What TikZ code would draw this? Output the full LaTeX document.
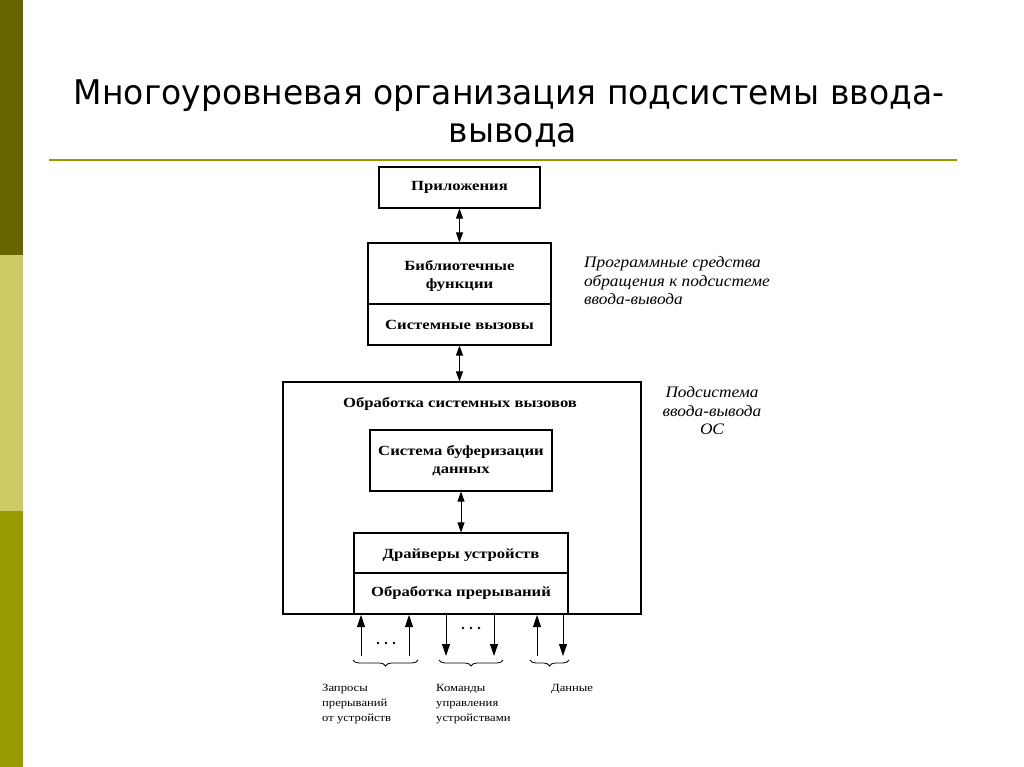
\documentclass[tikz,border=0pt]{standalone}
\usepackage{fontspec}
\setmainfont{Liberation Serif}
\newfontfamily\titlefont{DejaVu Sans}[FakeStretch=0.97]
\newfontfamily\boxfont{Liberation Serif}[FakeStretch=1.19]
\newfontfamily\itfont{Liberation Serif}[FakeStretch=1.08]
\newfontfamily\lblfont{Liberation Serif}[FakeStretch=1.15]
\usetikzlibrary{arrows.meta,decorations.pathreplacing}
\definecolor{bardark}{HTML}{666600}
\definecolor{barlight}{HTML}{CCCC66}
\definecolor{barolive}{HTML}{999900}
\tikzset{
  box/.style={draw=black, line width=1.1pt, inner sep=0pt, fill=white},
  btext/.style={font=\boxfont\fontsize{14}{18}\selectfont\bfseries, align=center, inner sep=0pt},
  itext/.style={font=\itfont\fontsize{16}{18.5}\selectfont\itshape, inner sep=0pt},
  ltext/.style={font=\lblfont\fontsize{11}{15.2}\selectfont, align=left, inner sep=0pt, anchor=north west},
  ttext/.style={font=\titlefont\fontsize{34}{39}\selectfont, inner sep=0pt, anchor=base},
  dbl/.style={line width=0.8pt, {Triangle[width=7pt,length=10pt]}-{Triangle[width=7pt,length=10pt]}},
  sgl/.style={line width=0.8pt, -{Triangle[width=8pt,length=12pt]}},
  brc/.style={line width=0.8pt, decorate, decoration={brace, mirror, amplitude=6pt}},
  dotmark/.style={circle, fill=black, inner sep=0pt, minimum size=2.6pt},
}
\begin{document}
\begin{tikzpicture}[x=1pt,y=-1pt]
\useasboundingbox (0,0) rectangle (1024,767);
% side bar
\fill[bardark] (0,0) rectangle (23,255);
\fill[barlight] (0,255) rectangle (23,511);
\fill[barolive] (0,511) rectangle (23,767);
% title
\node[ttext] (title1) at (509,105) {Многоуровневая организация подсистемы ввода-};
\node[ttext] (title2) at (513,143) {вывода};
\draw[barolive, line width=2pt] (49,160) -- (957,160);
% boxes
\node[box, minimum width=161pt, minimum height=41pt] (app) at (459.5,187.5) {};
\node[btext] (appt) at (app.center) {Приложения};
\node[box, minimum width=183pt, minimum height=102pt] (lib) at (459.5,294) {};
\coordinate (libdl) at (368,304);
\coordinate (libdr) at (551,304);
\draw[line width=1.1pt] (libdl) -- (libdr);
\node[btext] (libt) at (459.5,276) {Библиотечные\\функции};
\node[btext] (sys) at (459.5,325) {Системные вызовы};
\draw[dbl] (app.south) -- (lib.north);
\node[box, minimum width=358pt, minimum height=232pt] (os) at (462,498) {};
\draw[dbl] (lib.south) -- (lib.south |- os.north);
\node[btext] (ost) at (460,404) {Обработка системных вызовов};
\node[box, minimum width=182pt, minimum height=61pt] (buf) at (461,460.5) {};
\node[btext] (buft) at (buf.center) {Система буферизации\\данных};
\node[box, minimum width=214pt, minimum height=81pt] (drv) at (461,573.5) {};
\coordinate (drvdl) at (354,573);
\coordinate (drvdr) at (568,573);
\draw[line width=1.1pt] (drvdl) -- (drvdr);
\node[btext] (drvt) at (461,555) {Драйверы устройств};
\node[btext] (intt) at (461,593) {Обработка прерываний};
\draw[dbl] (buf.south) -- (drv.north);
% italic labels
\node[itext, align=left, anchor=west] (prog) at (584,281) {Программные средства\\обращения к подсистеме\\ввода-вывода};
\node[itext, align=center] (sub) at (712,411) {Подсистема\\ввода-вывода\\ОС};
% bottom arrows
\coordinate (u1a) at (361,656); \coordinate (u1b) at (361,615);
\coordinate (u2a) at (409,656); \coordinate (u2b) at (409,615);
\coordinate (d1a) at (446,615); \coordinate (d1b) at (446,656);
\coordinate (d2a) at (494,615); \coordinate (d2b) at (494,656);
\coordinate (u3a) at (537,656); \coordinate (u3b) at (537,615);
\coordinate (d3a) at (563,615); \coordinate (d3b) at (563,656);
\draw[sgl] (u1a) -- (u1b);
\draw[sgl] (u2a) -- (u2b);
\draw[sgl] (d1a) -- (d1b);
\draw[sgl] (d2a) -- (d2b);
\draw[sgl] (u3a) -- (u3b);
\draw[sgl] (d3a) -- (d3b);
\node[dotmark] (d11) at (378,643) {};
\node[dotmark] (d12) at (386,643) {};
\node[dotmark] (d13) at (394,643) {};
\node[dotmark] (d21) at (463,628) {};
\node[dotmark] (d22) at (471,628) {};
\node[dotmark] (d23) at (479,628) {};
% braces
\coordinate (b1a) at (353,660); \coordinate (b1b) at (418,660);
\coordinate (b2a) at (439,660); \coordinate (b2b) at (503,660);
\coordinate (b3a) at (530,660); \coordinate (b3b) at (569,660);
\draw[brc] (b1a) -- (b1b);
\draw[brc] (b2a) -- (b2b);
\draw[brc] (b3a) -- (b3b);
% labels
\node[ltext] (l1) at (322,684) {Запросы\\прерываний\\от устройств};
\node[ltext] (l2) at (436,684) {Команды\\управления\\устройствами};
\node[ltext] (l3) at (551,684) {Данные};
\end{tikzpicture}
\end{document}
